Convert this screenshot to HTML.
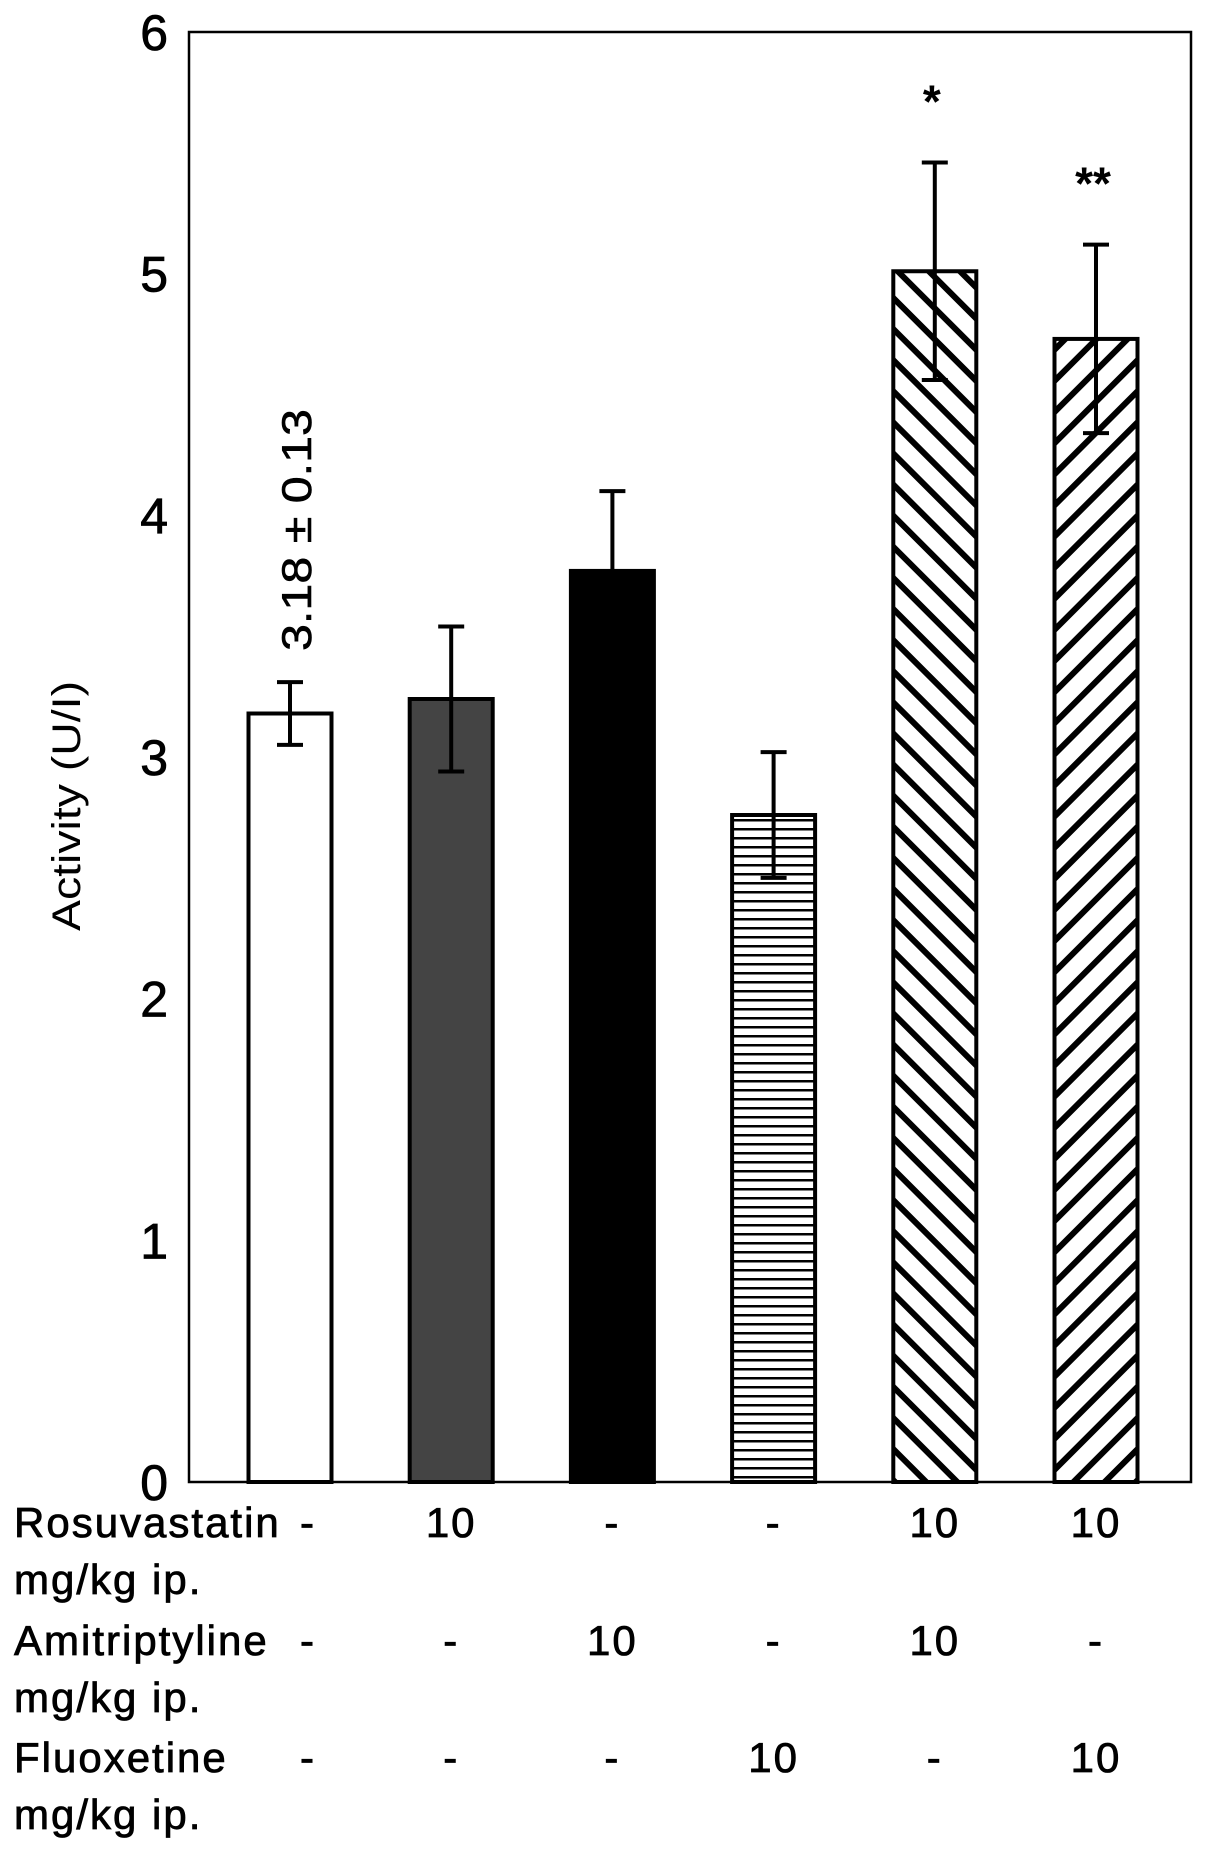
<!DOCTYPE html>
<html><head><meta charset="utf-8">
<style>
html,body{margin:0;padding:0;background:#fff;}
svg{display:block;font-family:"Liberation Sans",Arial,sans-serif;}
</style></head>
<body>
<svg id="chart" width="1205" height="1856" viewBox="0 0 1205 1856" xmlns="http://www.w3.org/2000/svg">
<defs>
<pattern id="hlines" patternUnits="userSpaceOnUse" width="10" height="9"><rect width="10" height="9" fill="#fff"/><rect y="0" width="10" height="2.5" fill="#000"/></pattern>
<pattern id="dback" patternUnits="userSpaceOnUse" width="22" height="22" patternTransform="rotate(-45)"><rect width="22" height="22" fill="#fff"/><rect x="0" y="0" width="6" height="22" fill="#000"/></pattern>
<pattern id="dfwd" patternUnits="userSpaceOnUse" width="22" height="22" patternTransform="rotate(45)"><rect width="22" height="22" fill="#fff"/><rect x="0" y="0" width="6" height="22" fill="#000"/></pattern>
</defs>
<rect x="189" y="32" width="1002" height="1450" fill="none" stroke="#000" stroke-width="2.5"/>
<g id="yaxis"></g>
<g id="bars"></g>
<text transform="translate(80,806) rotate(-90)" text-anchor="middle" font-size="40" textLength="250" lengthAdjust="spacingAndGlyphs">Activity (U/I)</text>
<text transform="translate(311,530) rotate(-90)" text-anchor="middle" font-size="42" stroke="#000" stroke-width="0.6" textLength="242" lengthAdjust="spacingAndGlyphs">3.18 ± 0.13</text>
<g id="table"></g>
</svg>
<script>
const categories = ["Control","Rosuvastatin","Amitriptyline","Fluoxetine","Rosuvastatin+Amitriptyline","Rosuvastatin+Fluoxetine"];
const values = [3.18, 3.24, 3.77, 2.76, 5.01, 4.73];
const errors = [0.13, 0.30, 0.33, 0.26, 0.45, 0.39];
const fills = ["#fff","#444","#000","url(#hlines)","url(#dback)","url(#dfwd)"];
const sigMarks = ["","","","","*","**"];
const yTicks = [0,1,2,3,4,5,6];
const rowLabels = ["Rosuvastatin","Amitriptyline","Fluoxetine"];
const rosuDose = ["-","10","-","-","10","10"];
const amiDose = ["-","-","10","-","10","-"];
const fluDose = ["-","-","-","10","-","10"];

const NS = "http://www.w3.org/2000/svg";
const Y0 = 1482, Y6 = 32, X0 = 290, DX = 161.2, BW = 83;
function y(v){ return Y0 - (v/6)*(Y0-Y6); }
function xc(i){ return X0 + i*DX; }
function mk(tag, attrs, parent, txt){
  const el = document.createElementNS(NS, tag);
  for (const k in attrs) el.setAttribute(k, attrs[k]);
  if (txt !== undefined) el.textContent = txt;
  parent.appendChild(el);
  return el;
}
const yaxis = document.getElementById("yaxis");
yTicks.forEach(t => {
  const el = mk("text", {x:168, y:y(t)+18, "text-anchor":"end", "font-size":50, stroke:"#000", "stroke-width":0.8}, yaxis, String(t));
  
  
});
const bars = document.getElementById("bars");
values.forEach((v,i) => {
  const cx = xc(i);
  const r = mk("rect", {x:cx-BW/2, y:y(v), width:BW, height:Y0-y(v), fill:fills[i], stroke:"#000", "stroke-width":4}, bars);
  
  
  const e = errors[i];
  const g = mk("g", {stroke:"#000", "stroke-width":4}, bars);
  
  
  mk("line", {x1:cx, x2:cx, y1:y(v+e), y2:y(v-e)}, g);
  mk("line", {x1:cx-13, x2:cx+13, y1:y(v+e), y2:y(v+e)}, g);
  mk("line", {x1:cx-13, x2:cx+13, y1:y(v-e), y2:y(v-e)}, g);
  if (sigMarks[i]) {
    const s = mk("text", {x:cx-3, y:y(v+e)-45, "text-anchor":"middle", "font-size":46, "font-weight":"bold"}, bars, sigMarks[i]);
    
    
  }
});
const table = document.getElementById("table");
const rows = [rosuDose, amiDose, fluDose];
const rowY = [1537, 1655, 1772];
rowLabels.forEach((lab, r) => {
  const t = mk("text", {x:14, y:rowY[r], "font-size":42, "letter-spacing":"2", stroke:"#000", "stroke-width":0.8}, table, lab);
  
  
  const u = mk("text", {x:14, y:rowY[r]+57, "font-size":42, "letter-spacing":"2", stroke:"#000", "stroke-width":0.8}, table, "mg/kg ip.");
  
  
  rows[r].forEach((d, i) => {
    const cx = i === 0 ? 308 : xc(i);
    const c = mk("text", {x:cx, y:rowY[r], "text-anchor":"middle", "font-size":42, "letter-spacing":"2", stroke:"#000", "stroke-width":0.8}, table, d);
    
    
  });
});
</script>
</body></html>
